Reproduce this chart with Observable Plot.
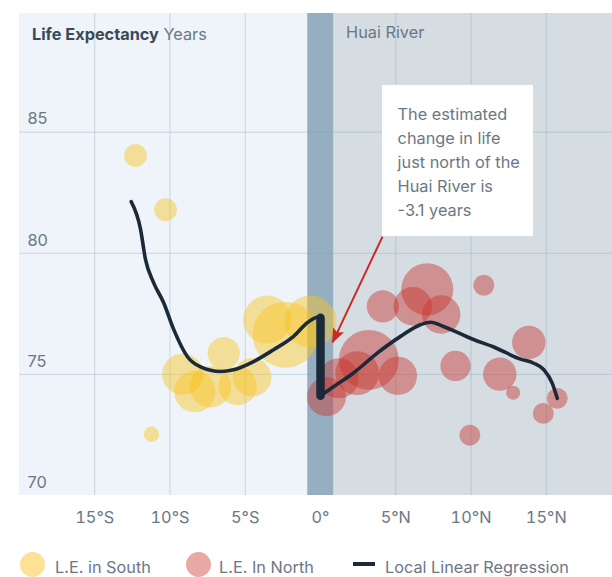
<!DOCTYPE html>
<html>
<head>
<meta charset="utf-8">
<script src="https://cdn.jsdelivr.net/npm/d3@7"></script>
<script src="https://cdn.jsdelivr.net/npm/@observablehq/plot@0.6"></script>
<style>
  body { margin: 0; background: #ffffff; }
  #wrap { position: relative; width: 612px; height: 577px; overflow: hidden; font-family: Inter, "Noto Sans", sans-serif; }
  #chart svg { display: block; }
  .lg { position: absolute; }
  .sw { position: absolute; width: 25px; height: 25px; border-radius: 50%; }
  .lt { position: absolute; font-size: 16.3px; color: #6b7784; line-height: 20px; white-space: nowrap; }
</style>
</head>
<body>
<div id="wrap">
  <div id="chart"></div>
</div>
<script>
// ---- data ----
const southLat = [-12.29, -10.30, -11.23, -9.15, -8.35, -7.31, -6.43, -5.50, -4.54, -3.54, -2.33, -0.66];
const southLE  = [84.04, 81.80, 72.53, 75.01, 74.29, 74.49, 75.88, 74.52, 74.88, 77.26, 76.64, 77.18];
const southPop = [13, 13, 6, 43, 43, 43, 26, 37, 37, 58, 109, 68];

const northLat = [0.40, 1.22, 2.44, 3.21, 5.14, 4.14, 6.13, 7.09, 8.02, 8.97, 10.85, 13.84, 11.91, 12.80, 15.73, 14.80, 9.92];
const northLE  = [74.08, 74.84, 75.05, 75.60, 74.94, 77.81, 77.81, 78.51, 77.47, 75.35, 78.68, 76.32, 75.01, 74.24, 74.01, 73.39, 72.49];
const northPop = [38, 40, 48, 90, 37, 26, 37, 68, 37, 23, 11, 28, 28, 5, 11, 11, 11];

const fitSouthLat = [-12.58, -11.96, -11.63, -11.10, -10.43, -9.75, -8.84, -7.97, -6.64, -5.78, -4.45, -3.12, -1.79, -0.86, -0.20, 0];
const fitSouthLE  = [82.13, 81.00, 79.75, 78.80, 77.97, 76.85, 75.73, 75.31, 75.12, 75.19, 75.53, 76.02, 76.57, 77.14, 77.36, 77.34];

const fitNorthLat = [0, 0.86, 2.19, 3.79, 5.32, 6.64, 7.31, 8.17, 10.08, 11.51, 13.29, 14.17, 14.84, 15.40, 15.73];
const fitNorthLE  = [74.12, 74.49, 75.06, 75.89, 76.57, 77.05, 77.15, 76.98, 76.46, 76.13, 75.63, 75.46, 75.19, 74.63, 74.01];

const jumpLat = [0, 0];
const jumpLE  = [77.34, 74.12];

const xTicks = [-15, -10, -5, 0, 5, 10, 15];
const yTicks = [70, 75, 80, 85];
const gridX = [-15, -10, -5, 5, 10, 15];
const gridY = [75, 80, 85];

const riverEdges = [-0.85, 0.9];
const panelLat = [-20, 19.4];

const noteText = "The estimated\nchange in life\njust north of the\nHuai River is\n-3.1 years";
const noteBox = [4.12, 14.15, 80.69, 86.93];   // lat1, lat2, le1, le2
const noteAt = [5.12, 83.85];
const arrowFrom = [4.12, 80.69];
const arrowTo = [0.80, 76.32];

// ---- tables ----
const south = southLat.map((d, i) => ({lat: d, le: southLE[i], pop: southPop[i]}));
const north = northLat.map((d, i) => ({lat: d, le: northLE[i], pop: northPop[i]}));
const fitS = fitSouthLat.map((d, i) => ({lat: d, le: fitSouthLE[i]}));
const fitN = fitNorthLat.map((d, i) => ({lat: d, le: fitNorthLE[i]}));
const jump = jumpLat.map((d, i) => ({lat: d, le: jumpLE[i]}));
const panels = [
  {x1: panelLat[0], x2: riverEdges[0], fill: "#eef4f9"},
  {x1: riverEdges[0], x2: riverEdges[1], fill: "#95afc1"},
  {x1: riverEdges[1], x2: panelLat[1], fill: "#d5dde3"}
];

const fmtLat = d => d === 0 ? "0°" : d < 0 ? `${-d}°S` : `${d}°N`;
const FONT = "Inter, 'Noto Sans', sans-serif";
const TXT = "#6b7784";
const FS = 16.3;

const plot = Plot.plot({
  width: 612,
  height: 535,
  marginLeft: 19,
  marginRight: 0,
  marginTop: 13,
  marginBottom: 40,
  style: {fontFamily: FONT, fontSize: FS + "px", color: TXT, background: "transparent"},
  x: {domain: panelLat, ticks: xTicks, tickFormat: fmtLat, tickSize: 0, tickPadding: 16, label: null},
  y: {domain: [70, 89.9], axis: null},
  r: {type: "sqrt", domain: [0, 100], range: [0, 31.6]},
  marks: [
    Plot.rect(panels, {x1: "x1", x2: "x2", y1: 70, y2: 89.9, fill: d => d.fill}),
    Plot.ruleX(gridX, {stroke: "#7f9db3", strokeOpacity: 0.35, strokeWidth: 1}),
    Plot.ruleY(gridY, {stroke: "#7f9db3", strokeOpacity: 0.35, strokeWidth: 1}),
    Plot.dot(south, {x: "lat", y: "le", r: "pop", fill: "#f9c31f", fillOpacity: 0.45}),
    Plot.dot(north, {x: "lat", y: "le", r: "pop", fill: "#c8332c", fillOpacity: 0.45}),
    Plot.line(fitS, {x: "lat", y: "le", stroke: "#1b2a39", strokeWidth: 3.6, curve: "monotone-x", strokeLinecap: "round"}),
    Plot.line(fitN, {x: "lat", y: "le", stroke: "#1b2a39", strokeWidth: 3.6, curve: "monotone-x", strokeLinecap: "round"}),
    Plot.line(jump, {x: "lat", y: "le", stroke: "#1b2a39", strokeWidth: 8.5, strokeLinecap: "round"}),
    Plot.text(yTicks, {y: d => d, frameAnchor: "left", dx: 8, dy: -13, textAnchor: "start", text: d => String(d), fill: TXT, fontSize: FS}),
    Plot.text(["Huai River"], {x: riverEdges[1], frameAnchor: "top", dx: 12, dy: 13, textAnchor: "start", text: d => d, fill: TXT, fontSize: FS}),
    Plot.rect([noteBox], {x1: d => d[0], x2: d => d[1], y1: d => d[2], y2: d => d[3], fill: "#ffffff"}),
    Plot.text([noteText], {x: noteAt[0], y: noteAt[1], text: d => d, textAnchor: "start", lineHeight: 1.48, fill: TXT, fontSize: FS}),
    Plot.link([[arrowFrom, arrowTo]], {x1: d => d[0][0], y1: d => d[0][1], x2: d => d[1][0], y2: d => d[1][1], stroke: "#cc2a1e", strokeWidth: 2})
  ]
});

document.getElementById("chart").appendChild(plot);

// arrow head (filled) + mixed-weight title
const svg = d3.select(plot);
const defs = svg.append("defs");
defs.append("marker")
  .attr("id", "redhead").attr("viewBox", "0 0 15 12").attr("refX", 14).attr("refY", 6)
  .attr("markerWidth", 15).attr("markerHeight", 12).attr("markerUnits", "userSpaceOnUse").attr("orient", "auto")
  .append("path").attr("d", "M0,0L15,6L0,12L3,6z").attr("fill", "#cc2a1e");
svg.selectAll('g[aria-label="link"] path').attr("marker-end", "url(#redhead)");

const title = svg.append("text").attr("x", 32).attr("y", 40).attr("font-size", FS)
  .attr("font-family", FONT).attr("text-anchor", "start");
title.append("tspan").attr("font-weight", 700).attr("fill", "#3c4856").text("Life Expectancy");
title.append("tspan").attr("fill", TXT).text(" Years");

// legend
const wrap = document.getElementById("wrap");
const legend = [
  {kind: "dot", color: "#fde296", left: 19.5, label: "L.E. in South", tx: 55},
  {kind: "dot", color: "#e8a8a3", left: 185.5, label: "L.E. In North", tx: 219},
  {kind: "line", color: "#1d2b3a", left: 352.5, label: "Local Linear Regression", tx: 385}
];
legend.forEach(it => {
  const sw = document.createElement("div");
  if (it.kind === "dot") {
    sw.className = "sw";
    sw.style.left = it.left + "px"; sw.style.top = "552px"; sw.style.background = it.color;
  } else {
    sw.className = "lg";
    sw.style.left = it.left + "px"; sw.style.top = "562px"; sw.style.width = "22px"; sw.style.height = "4px"; sw.style.background = it.color;
  }
  wrap.appendChild(sw);
  const t = document.createElement("div");
  t.className = "lt"; t.textContent = it.label;
  t.style.left = it.tx + "px"; t.style.top = "557px";
  wrap.appendChild(t);
});
</script>
</body>
</html>
